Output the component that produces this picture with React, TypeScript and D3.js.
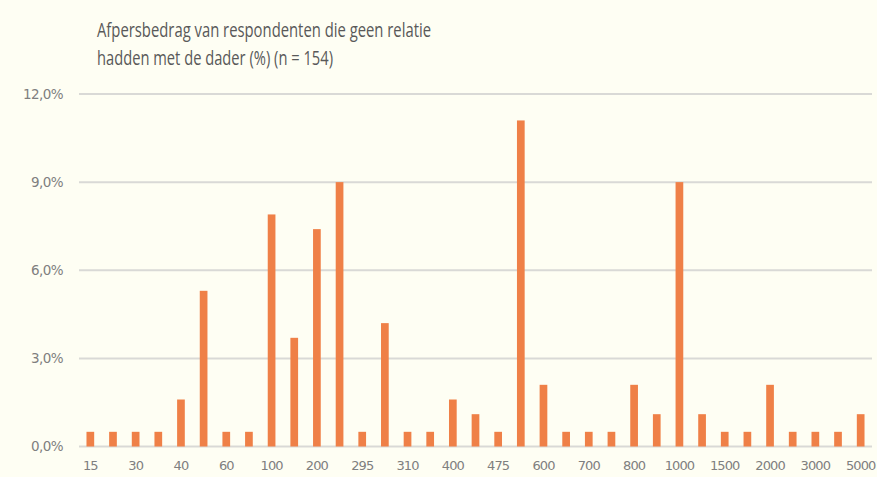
import * as d3 from "d3";
import { useEffect, useRef } from "react";

const amounts = [
  "15", "20", "30", "35", "40", "50", "60", "75", "100", "150",
  "200", "250", "295", "300", "310", "350", "400", "450", "475", "500",
  "600", "650", "700", "750", "800", "900", "1000", "1200", "1500", "1750",
  "2000", "2500", "3000", "4000", "5000",
];
const percents = [
  0.5, 0.5, 0.5, 0.5, 1.6, 5.3, 0.5, 0.5, 7.9, 3.7,
  7.4, 9.0, 0.5, 4.2, 0.5, 0.5, 1.6, 1.1, 0.5, 11.1,
  2.1, 0.5, 0.5, 0.5, 2.1, 1.1, 9.0, 1.1, 0.5, 0.5,
  2.1, 0.5, 0.5, 0.5, 1.1,
];
const yTicks = [0, 3, 6, 9, 12];
const titleLines = [
  "Afpersbedrag van respondenten die geen relatie",
  "hadden met de dader (%)  (n = 154)",
];

const width = 877;
const height = 477;
const margin = { top: 94, right: 5, bottom: 30.5, left: 79 };

export default function App() {
  const svgRef = useRef<SVGSVGElement>(null);

  useEffect(() => {
    const svg = d3.select(svgRef.current);

    const x = d3
      .scaleBand()
      .domain(amounts)
      .range([margin.left, width - margin.right])
      .paddingInner(0.66)
      .paddingOuter(0.33);

    const y = d3
      .scaleLinear()
      .domain([0, 12])
      .range([height - margin.bottom, margin.top]);

    // gridlines
    svg
      .select(".grid")
      .selectAll("line")
      .data(yTicks)
      .join("line")
      .attr("x1", margin.left)
      .attr("x2", width - margin.right)
      .attr("y1", (d) => y(d))
      .attr("y2", (d) => y(d))
      .attr("stroke", "#d9d9d6")
      .attr("stroke-width", 2);

    // bars
    svg
      .select(".bars")
      .selectAll("rect")
      .data(percents)
      .join("rect")
      .attr("x", (d, i) => x(amounts[i]))
      .attr("width", x.bandwidth())
      .attr("y", (d) => y(d))
      .attr("height", (d) => y(0) - y(d))
      .attr("fill", "#ef8047");

    // y axis labels
    const yAxis = d3
      .axisLeft(y)
      .tickValues(yTicks)
      .tickSize(0)
      .tickPadding(0)
      .tickFormat((d) => d3.format(".1f")(d).replace(".", ",") + "%");
    const ya = svg
      .select(".y-axis")
      .attr("transform", `translate(63,0)`)
      .call(yAxis);
    ya.select(".domain").remove();
    ya.selectAll("text")
      .attr("fill", "#7f7f7f")
      .attr("font-size", 13.5)
      .attr("font-family", "'DejaVu Sans', sans-serif")
      .attr("letter-spacing", "-0.6");

    // x axis labels, every other category
    const xAxis = d3
      .axisBottom(x)
      .tickValues(amounts.filter((d, i) => i % 2 === 0))
      .tickSize(0)
      .tickPadding(0);
    const xa = svg
      .select(".x-axis")
      .attr("transform", `translate(0,${height - margin.bottom + 14})`)
      .call(xAxis);
    xa.select(".domain").remove();
    xa.selectAll("text")
      .attr("fill", "#7f7f7f")
      .attr("font-size", 13)
      .attr("font-family", "'DejaVu Sans', sans-serif")
      .attr("letter-spacing", "-0.9");
  }, []);

  return (
    <svg
      ref={svgRef}
      width={width}
      height={height}
      style={{ position: "absolute", left: 0, top: 0, background: "#fefef3" }}
    >
      <rect width={width} height={height} fill="#fefef3" />
      <g fill="#595959" fontFamily="'Open Sans', sans-serif" fontSize={20}>
        <text x={97} y={37} textLength={334} lengthAdjust="spacingAndGlyphs">
          {titleLines[0]}
        </text>
        <text x={97} y={65} textLength={236} lengthAdjust="spacingAndGlyphs">
          {titleLines[1]}
        </text>
      </g>
      <g className="grid"></g>
      <g className="bars"></g>
      <g className="y-axis"></g>
      <g className="x-axis"></g>
    </svg>
  );
}
